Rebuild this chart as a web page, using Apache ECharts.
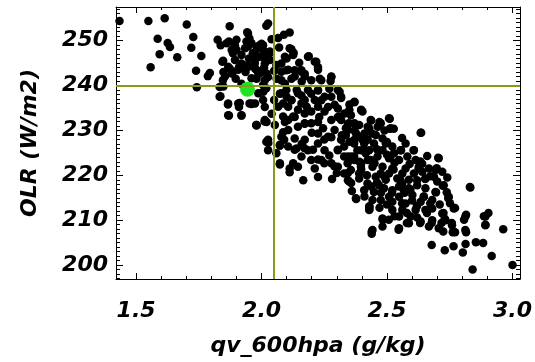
<!DOCTYPE html>
<html><head><meta charset="utf-8">
<script src="https://cdn.jsdelivr.net/npm/echarts@6/dist/echarts.min.js"></script>
<style>html,body{margin:0;padding:0;background:#fff}#c{width:535px;height:362px}</style>
</head><body><div id="c"></div>
<script>
// ---- data: [qv_600hpa (g/kg), OLR (W/m2)] ----
const sparseLeft = [[1.434,254.4],[1.549,254.4],[1.614,255.0],[1.702,253.6],[1.873,253.2],[1.586,250.4],[1.626,249.5],[1.635,248.6],[1.728,250.8],[1.720,248.4],[1.594,247.0],[1.664,246.3],[1.760,246.6],[1.558,244.1],[1.739,243.3],[1.794,242.8],[1.786,242.1],[1.742,239.6],[1.825,250.2],[1.837,249.0],[1.870,249.8],[1.900,250.2],[1.847,245.5],[1.848,243.0],[1.848,239.8],[1.836,237.6],[1.866,235.8],[1.870,233.3],[1.910,235.2],[1.913,236.1],[1.920,233.3],[1.952,236.0],[1.943,251.9],[1.946,251.6],[1.952,250.5],[1.946,248.7],[1.965,247.2],[1.844,245.3],[1.886,247.2],[1.873,243.8],[1.886,243.1],[1.919,244.6],[1.939,244.2],[1.979,246.1],[2.032,247.2],[1.979,243.5],[1.992,242.7],[2.006,240.1],[2.019,239.4],[1.833,239.7],[1.846,241.2],[1.833,237.5],[1.960,235.9],[1.979,231.2],[2.019,227.5],[2.012,232.0],[1.992,249.0],[2.006,247.9],[2.019,253.3],[1.910,244.1],[1.936,243.0],[1.897,241.5],[1.943,244.5],[1.920,240.4]];
const bandUpper = [[2.026,253.8],[2.066,250.6],[2.089,251.3],[2.112,251.8],[2.119,248.1],[2.128,247.3],[2.093,246.4],[2.099,243.4],[2.119,241.5],[2.159,243.4],[2.172,242.6],[2.188,246.5],[2.212,245.3],[2.225,244.1],[2.232,241.5],[2.278,241.9],[2.275,241.0],[1.980,248.6],[2.000,249.3],[1.987,246.4],[2.026,247.1],[2.020,245.6],[1.974,243.8],[2.007,243.4],[2.026,241.9],[1.980,241.5],[2.079,244.9],[2.132,243.4],[2.060,241.5],[2.093,240.4],[1.861,249.4],[1.894,249.0],[1.940,249.8],[1.960,249.4],[2.006,249.0],[2.033,247.6],[2.112,248.3],[2.126,246.8],[2.185,246.4],[2.218,245.3],[2.225,243.5],[2.159,243.1],[2.172,242.0],[2.106,243.5],[2.079,243.1],[2.059,244.6],[2.000,246.4],[1.973,247.2],[1.920,246.8],[1.894,245.7],[1.867,244.2],[1.907,243.5],[1.947,244.2],[1.987,242.7],[2.020,242.7],[1.854,242.0],[2.238,241.2],[2.278,242.0],[2.013,241.2],[1.881,247.9],[1.934,248.3],[1.987,248.3],[1.920,244.9],[1.973,244.9],[2.013,244.9],[1.881,242.7],[1.960,241.6],[2.033,245.7],[2.079,241.2],[2.132,242.0],[2.198,241.2]];
const bandMiddle = [[1.867,236.0],[1.867,233.4],[1.907,236.0],[1.920,233.4],[1.960,236.0],[1.987,238.3],[2.006,236.8],[2.013,232.3],[1.980,231.2],[2.026,227.9],[2.079,238.3],[2.099,239.0],[2.145,238.3],[2.185,239.0],[2.225,239.0],[2.251,237.5],[2.304,239.0],[2.317,237.2],[2.370,236.4],[2.397,234.6],[2.106,235.3],[2.126,233.1],[2.172,233.8],[2.145,230.8],[2.106,230.1],[2.079,228.6],[2.073,226.8],[2.139,226.0],[2.185,225.6],[2.225,227.1],[2.265,228.6],[2.278,232.3],[2.317,232.3],[2.344,230.1],[2.370,227.9],[2.397,225.6],[2.304,225.6],[2.238,223.4],[2.198,223.4],[2.126,222.7],[2.073,222.7],[2.423,230.8],[2.423,223.4],[2.291,235.7],[2.225,235.3],[2.198,231.6],[2.245,230.5],[2.350,234.6],[2.159,236.0],[2.053,231.2],[2.086,233.1],[2.066,235.3],[2.112,221.5],[2.278,222.7],[2.370,223.4],[2.119,236.8],[2.172,236.8],[2.212,236.8],[2.278,237.5],[2.145,234.6],[2.198,234.2],[2.251,234.2],[2.304,234.9],[2.331,233.8],[2.106,232.3],[2.172,231.6],[2.225,231.9],[2.291,230.1],[2.370,231.6],[2.397,228.6],[2.317,227.9],[2.251,225.6],[2.172,227.9],[2.106,226.4],[2.159,224.2],[2.344,224.2],[2.397,222.7],[2.423,227.9],[2.145,221.9],[2.304,221.9],[2.212,221.5],[2.059,224.9],[2.026,225.6],[2.007,238.6],[1.974,236.0],[2.013,235.2],[2.073,238.2],[2.086,236.0],[2.119,236.7],[2.159,237.8],[2.198,238.2],[2.225,238.9],[2.238,236.7],[2.265,235.2],[2.304,233.0],[2.344,231.5],[2.370,230.0],[2.410,229.3],[2.437,232.2],[2.470,231.9],[1.980,231.1],[2.020,231.9],[2.093,231.9],[2.086,229.6],[2.132,233.0],[2.172,231.5],[2.225,229.3],[2.278,228.5],[2.132,228.2],[2.311,238.6],[2.317,237.5],[2.370,236.3],[2.397,234.5],[2.463,230.8]];
const bandLower = [[2.402,234.2],[2.508,232.7],[2.475,231.6],[2.515,230.5],[2.349,231.6],[2.389,231.2],[2.429,230.5],[2.336,229.0],[2.376,229.4],[2.455,229.0],[2.634,229.5],[2.329,226.4],[2.369,227.1],[2.409,227.1],[2.448,227.1],[2.495,227.1],[2.554,225.6],[2.607,225.6],[2.329,224.2],[2.369,224.2],[2.415,224.9],[2.462,224.2],[2.508,223.8],[2.548,223.4],[2.581,224.2],[2.614,223.4],[2.706,223.8],[2.356,221.2],[2.396,221.9],[2.442,221.9],[2.482,221.9],[2.521,221.5],[2.574,221.5],[2.627,221.9],[2.667,221.5],[2.693,221.2],[2.720,220.8],[2.349,218.6],[2.389,219.3],[2.422,218.2],[2.455,219.7],[2.495,219.0],[2.541,219.3],[2.587,219.0],[2.620,217.8],[2.653,219.3],[2.687,219.7],[2.409,216.7],[2.448,216.3],[2.488,217.1],[2.521,216.7],[2.567,216.7],[2.601,215.6],[2.647,215.2],[2.693,216.3],[2.726,217.8],[2.832,217.3],[2.376,214.9],[2.429,213.0],[2.475,214.5],[2.521,214.1],[2.574,213.7],[2.634,214.1],[2.680,214.5],[2.746,215.2],[2.766,212.6],[2.429,212.3],[2.482,210.4],[2.548,210.8],[2.594,210.8],[2.634,209.7],[2.680,210.0],[2.720,211.5],[2.733,210.0],[2.759,208.9],[2.812,210.8],[2.812,207.8],[2.442,207.8],[2.548,208.2],[2.587,209.3],[2.706,208.2],[2.766,207.4],[2.892,210.8],[2.892,208.9],[2.310,233.1],[2.356,233.4],[2.435,232.3],[2.336,230.5],[2.402,227.9],[2.482,228.2],[2.521,226.4],[2.574,227.1],[2.429,225.6],[2.382,225.6],[2.482,225.6],[2.528,224.9],[2.343,222.7],[2.435,223.4],[2.508,220.4],[2.561,220.4],[2.607,220.4],[2.475,220.4],[2.389,220.4],[2.640,220.8],[2.329,220.4],[2.468,217.8],[2.548,217.5],[2.587,217.1],[2.653,217.1],[2.508,215.2],[2.548,215.2],[2.442,214.5],[2.614,212.3],[2.561,212.3],[2.521,212.3],[2.653,212.3],[2.667,208.6],[2.482,208.6],[2.027,227.2],[2.073,226.6],[2.073,222.4],[2.112,220.7],[2.166,218.9],[2.225,219.6],[2.281,219.2],[2.344,218.9],[2.357,218.3],[2.377,214.7],[2.430,213.1],[2.430,212.5],[2.439,207.5],[2.439,207.0],[2.483,210.1],[2.132,225.7],[2.170,226.1],[2.205,225.7],[2.225,223.5],[2.250,222.7],[2.290,222.0],[2.304,225.7],[2.357,224.2],[2.397,221.3],[2.450,222.7],[2.489,219.8],[2.437,217.5],[2.476,216.1],[2.344,220.5],[2.410,225.7]];
const bandCore = [[2.35,227.5],[2.39,223.0],[2.42,220.0],[2.46,225.8],[2.50,224.6],[2.53,222.8],[2.56,218.2],[2.59,222.5],[2.62,218.9],[2.64,222.6],[2.60,214.4],[2.53,210.9],[2.47,212.8],[2.41,215.3],[2.36,216.5],[2.30,220.5],[2.27,224.4],[2.25,228.0],[2.20,229.5],[2.23,233.0],[2.18,235.3],[2.14,239.0],[2.10,237.5],[2.05,236.8],[2.04,233.7],[2.09,227.9],[2.16,227.0],[2.32,228.9],[2.35,235.8],[2.27,239.3],[2.44,229.3],[2.49,230.0],[2.56,228.3],[2.66,224.3],[2.70,218.6],[2.74,219.5],[2.68,212.6],[2.71,213.5],[2.62,210.6],[2.57,216.1],[2.46,218.4],[2.04,250.3],[2.07,248.5],[2.05,243.3],[2.15,245.1],[2.10,246.0],[2.16,240.9],[1.95,246.0],[1.90,248.0],[2.01,244.0]];
const sparseRight = [[2.556,225.6],[2.606,225.6],[2.704,223.9],[2.626,221.6],[2.633,223.1],[2.698,221.6],[2.672,219.8],[2.652,219.2],[2.722,217.7],[2.830,217.4],[2.695,216.2],[2.738,216.2],[2.744,214.9],[2.751,213.8],[2.771,212.7],[2.725,211.6],[2.730,210.3],[2.815,211.2],[2.807,210.1],[2.904,211.6],[2.886,210.9],[2.892,209.0],[2.963,208.0],[2.758,209.4],[2.762,207.3],[2.771,207.3],[2.815,207.3],[2.717,209.4],[2.724,207.5],[2.678,209.4],[2.632,209.4],[2.579,209.4],[2.546,207.9],[2.854,205.1],[2.883,204.9],[2.813,204.7],[2.678,204.5],[2.765,204.2],[2.802,202.8],[2.730,203.3],[2.917,202.0],[2.841,199.0],[3.000,200.0],[2.511,232.6],[2.527,230.4],[2.511,230.4],[2.636,229.5],[2.500,227.4],[2.513,224.2],[2.526,221.3],[2.553,219.0],[2.520,216.1],[2.560,213.8],[2.579,211.6],[2.619,213.1],[2.593,216.8],[2.646,215.3],[2.672,213.8],[2.659,211.6],[2.507,210.1],[2.500,213.5]];
const highlightPoint = [[1.944, 239.2]];
const refQv = 2.05;
const refOlr = 240;

// ---- axes ----
const xRange = [1.42, 3.03];
const yRange = [196.9, 257.5];
const xTickValues = [1.5, 2.0, 2.5, 3.0];
const xTickLabels = ['1.5', '2.0', '2.5', '3.0'];
const yTickValues = [200, 210, 220, 230, 240, 250];
const yTickLabels = ['200', '210', '220', '230', '240', '250'];
const xMinorStep = 0.1, yMinorStep = 1;

const xMinor = []; for (let i = 0; i <= 15; i++) xMinor.push(+(1.5 + i * xMinorStep).toFixed(2));
const yMinor = []; for (let v = 197; v <= 257; v += yMinorStep) yMinor.push(v);

const font = {fontFamily: 'DejaVu Sans', fontWeight: 'bold', fontStyle: 'italic', fontSize: 22, color: '#000'};
const lineC = '#000';

function xAx(pos, major, withLabel) {
  return {
    type: 'value', position: pos, min: xRange[0], max: xRange[1],
    splitLine: {show: false},
    axisLine: {show: major, onZero: false, lineStyle: {color: lineC, width: 1}},
    axisTick: {show: true, inside: true, length: major ? 6 : 3, customValues: major ? xTickValues : xMinor, lineStyle: {color: lineC}},
    axisLabel: withLabel ? Object.assign({show: true, margin: 21, customValues: xTickValues,
      formatter: v => xTickLabels[xTickValues.indexOf(+v)] ?? ''}, font) : {show: false},
    name: withLabel ? 'qv_600hpa (g/kg)' : '', nameLocation: 'middle', nameGap: 56,
    nameTextStyle: font
  };
}
function yAx(pos, major, withLabel) {
  return {
    type: 'value', position: pos, min: yRange[0], max: yRange[1],
    splitLine: {show: false},
    axisLine: {show: major, onZero: false, lineStyle: {color: lineC, width: 1}},
    axisTick: {show: true, inside: true, length: major ? 7 : 4, customValues: major ? yTickValues : yMinor, lineStyle: {color: lineC}},
    axisLabel: withLabel ? Object.assign({show: true, margin: 8, customValues: yTickValues,
      formatter: v => yTickLabels[yTickValues.indexOf(+v)] ?? ''}, font) : {show: false},
    name: withLabel ? 'OLR (W/m2)' : '', nameLocation: 'middle', nameGap: 75,
    nameTextStyle: font
  };
}

const chart = echarts.init(document.getElementById('c'), null, {renderer: 'canvas'});
const allPoints = [].concat(sparseLeft, bandUpper, bandMiddle, bandLower, bandCore, sparseRight);
chart.setOption({
  animation: false,
  backgroundColor: '#fff',
  grid: {left: 116, right: 13, top: 7, bottom: 83, containLabel: false},
  xAxis: [xAx('bottom', true, true), xAx('bottom', false, false), xAx('top', true, false), xAx('top', false, false)],
  yAxis: [yAx('left', true, true), yAx('left', false, false), yAx('right', true, false), yAx('right', false, false)],
  series: [
    {type: 'scatter', xAxisIndex: 0, yAxisIndex: 0, data: allPoints, symbol: 'circle', symbolSize: 8.5,
     itemStyle: {color: '#000', opacity: 1}, z: 2, silent: true},
    {type: 'scatter', xAxisIndex: 0, yAxisIndex: 0, data: [], z: 3, silent: true,
     markLine: {silent: true, symbol: ['none', 'none'], label: {show: false}, animation: false,
       lineStyle: {color: '#8a9a1c', width: 2, type: 'solid', opacity: 1},
       data: [{xAxis: refQv}, {yAxis: refOlr}]}},
    {type: 'scatter', xAxisIndex: 0, yAxisIndex: 0, data: highlightPoint, symbol: 'circle', symbolSize: 15,
     itemStyle: {color: '#22e322', opacity: 1}, z: 4, silent: true}
  ]
});
</script></body></html>
